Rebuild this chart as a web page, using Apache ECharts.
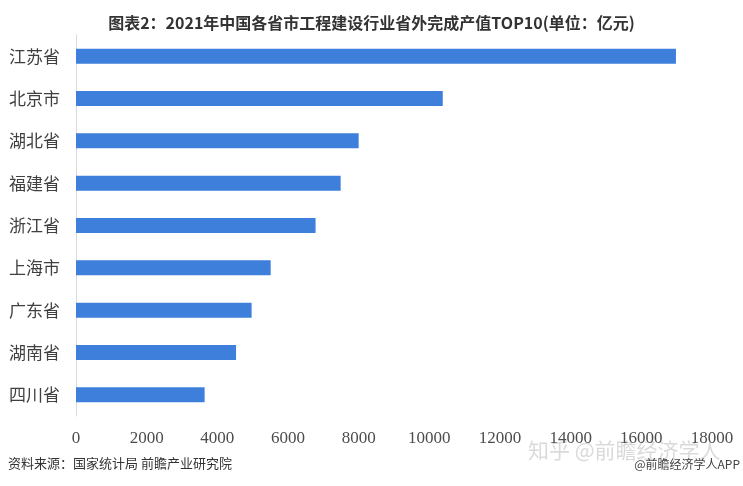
<!DOCTYPE html>
<html>
<head>
<meta charset="utf-8">
<script src="https://cdn.jsdelivr.net/npm/echarts@6/dist/echarts.min.js"></script>
<style>
html,body{margin:0;padding:0;background:#fff;}
#chart{width:743px;height:486px;}
</style>
</head>
<body>
<div id="chart"></div>
<script>
const categories = ['江苏省','北京市','湖北省','福建省','浙江省','上海市','广东省','湖南省','四川省'];
const values = [16980, 10380, 8000, 7490, 6780, 5510, 4970, 4530, 3640];
const xTicks = [0, 2000, 4000, 6000, 8000, 10000, 12000, 14000, 16000, 18000];

const chart = echarts.init(document.getElementById('chart'));
chart.setOption({
  backgroundColor: '#ffffff',
  animation: false,
  title: {
    text: '图表2：2021年中国各省市工程建设行业省外完成产值TOP10(单位：亿元)',
    left: 'center',
    top: 10,
    textStyle: {fontFamily: 'Noto Sans CJK SC', fontSize: 16, fontWeight: 'bold', color: '#333333'}
  },
  graphic: [
    {type: 'text', left: 8, top: 457, style: {text: '资料来源：国家统计局 前瞻产业研究院', font: '13px "Noto Sans CJK SC"', fill: '#333333'}},
    {type: 'text', right: 3, top: 458, style: {text: '@前瞻经济学人APP', font: '12px "Noto Sans CJK SC"', fill: '#444444'}},
    {type: 'text', left: 528, top: 440, z: -1, style: {text: '知乎 @前瞻经济学人', font: '21px "Noto Sans CJK SC"', fill: 'rgba(150,150,150,0.35)'}}
  ],
  grid: {left: 76, right: 31, top: 35, bottom: 70, containLabel: false},
  xAxis: {
    type: 'value',
    min: xTicks[0],
    max: xTicks[xTicks.length - 1],
    interval: 2000,
    axisLine: {show: false},
    axisTick: {show: false},
    splitLine: {show: false},
    axisLabel: {fontFamily: 'Liberation Serif', fontSize: 17, color: '#4d4d4d', margin: 14,
      formatter: function (v) { return String(v); }}
  },
  yAxis: {
    type: 'category',
    inverse: true,
    data: categories,
    axisLine: {show: true, lineStyle: {color: '#d9d9d9', width: 1}},
    axisTick: {show: false},
    axisLabel: {fontFamily: 'Noto Sans CJK SC', fontSize: 17, color: '#404040', margin: 16}
  },
  series: [{
    type: 'bar',
    data: values,
    barWidth: 15,
    itemStyle: {color: '#3e7fdc'}
  }]
});
</script>
</body>
</html>
